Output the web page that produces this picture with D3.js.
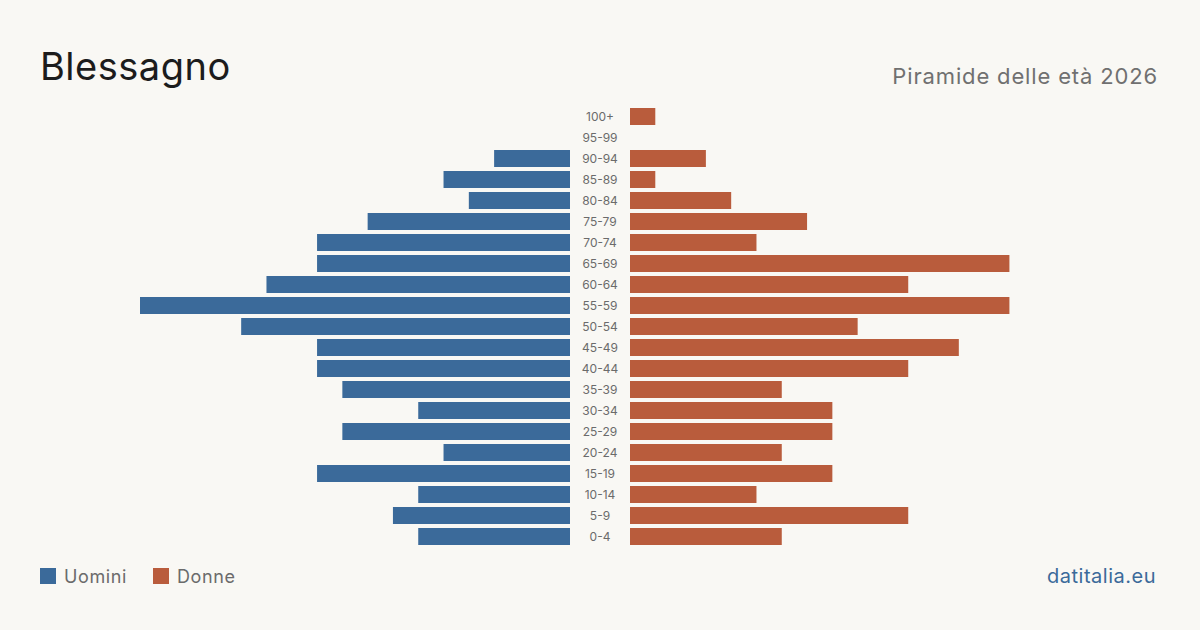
<!DOCTYPE html>
<html><head><meta charset="utf-8">
<script src="https://cdn.jsdelivr.net/npm/d3@7"></script>
<style>
html,body{margin:0;padding:0;background:#f9f8f4;}
svg{display:block;font-family:Inter,"Noto Sans",sans-serif;}
</style></head>
<body>
<svg id="c" width="1200" height="630"></svg>
<script>
const ageGroups = ["100+","95-99","90-94","85-89","80-84","75-79","70-74","65-69","60-64","55-59","50-54","45-49","40-44","35-39","30-34","25-29","20-24","15-19","10-14","5-9","0-4"];
const men   = [0,0,3,5,4,8,10,10,12,17,13,10,10,9,6,9,5,10,6,7,6];
const women = [1,0,3,1,4,7,5,15,11,15,9,13,11,6,8,8,6,8,5,11,6];
const seriesNames = ["Uomini","Donne"];
const colors = {men:"#3b6a9a", women:"#b95c3c"};

const svg = d3.select("#c");
svg.append("rect").attr("width",1200).attr("height",630).attr("fill","#f9f8f4");

const y = d3.scaleBand().domain(ageGroups).range([106,547]).paddingInner(4/21).paddingOuter(2/21);
const maxV = d3.max(men.concat(women));
const xL = d3.scaleLinear().domain([0,maxV]).range([570,140]);
const xR = d3.scaleLinear().domain([0,maxV]).range([630,1060]);

svg.append("g").selectAll("rect").data(ageGroups).join("rect")
  .attr("x",(d,i)=>xL(men[i])).attr("y",d=>y(d))
  .attr("width",(d,i)=>xL(0)-xL(men[i])).attr("height",y.bandwidth())
  .attr("fill",colors.men);
svg.append("g").selectAll("rect").data(ageGroups).join("rect")
  .attr("x",xR(0)).attr("y",d=>y(d))
  .attr("width",(d,i)=>xR(women[i])-xR(0)).attr("height",y.bandwidth())
  .attr("fill",colors.women);
svg.append("g").selectAll("text").data(ageGroups).join("text")
  .attr("x",600).attr("y",d=>y(d)+y.bandwidth()/2).attr("dy","0.35em")
  .attr("text-anchor","middle").attr("font-size",12).attr("fill","#6b6b6b").text(d=>d);

svg.append("text").attr("x",40).attr("y",80).attr("font-size",38).attr("letter-spacing",0.5).attr("fill","#1c1c1c").text("Blessagno");
svg.append("text").attr("x",1158).attr("y",84).attr("text-anchor","end").attr("font-size",22).attr("letter-spacing",0.85).attr("fill","#707070").text("Piramide delle età 2026");

const leg = [{n:seriesNames[0],c:colors.men,x:40},{n:seriesNames[1],c:colors.women,x:153}];
leg.forEach(l=>{
  svg.append("rect").attr("x",l.x).attr("y",568).attr("width",16).attr("height",16).attr("fill",l.c);
  svg.append("text").attr("x",l.x+24).attr("y",583).attr("font-size",18).attr("letter-spacing",0.6).attr("fill","#6b6b6b").text(l.n);
});
svg.append("text").attr("x",1156).attr("y",583).attr("text-anchor","end").attr("font-size",20).attr("letter-spacing",0.5).attr("fill","#3b6a9a").text("datitalia.eu");
</script>
</body></html>
